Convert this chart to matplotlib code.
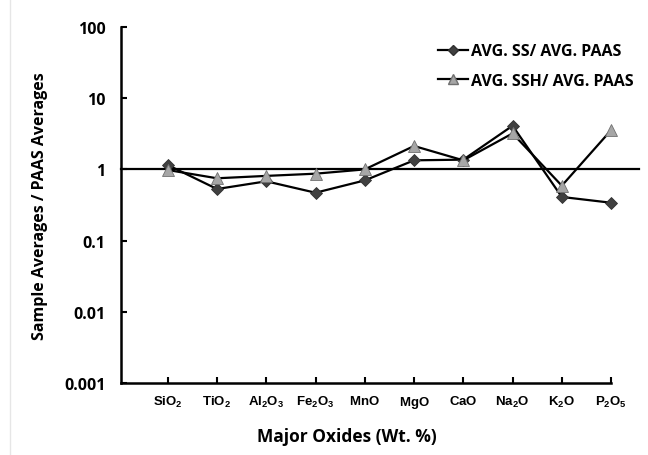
import numpy as np
import matplotlib
matplotlib.use("Agg")
from matplotlib import pyplot as plt
from matplotlib.lines import Line2D

# oxides and the two normalised series
oxides = [r"$\mathbf{SiO_2}$", r"$\mathbf{TiO_2}$", r"$\mathbf{Al_2O_3}$",
          r"$\mathbf{Fe_2O_3}$", r"$\mathbf{MnO}$", r"$\mathbf{MgO}$", r"$\mathbf{CaO}$",
          r"$\mathbf{Na_2O}$", r"$\mathbf{K_2O}$", r"$\mathbf{P_2O_5}$"]
ss_paas = [1.15, 0.53, 0.68, 0.47, 0.70, 1.34, 1.37, 4.1, 0.41, 0.34]
ssh_paas = [0.98, 0.75, 0.81, 0.87, 1.0, 2.13, 1.34, 3.2, 0.59, 3.55]
yticks = [0.001, 0.01, 0.1, 1, 10, 100]
ytick_labels = ["0.001", "0.01", "0.1", "1", "10", "100"]

plt.rcParams['font.family'] = ['Open Sans', 'DejaVu Sans']
plt.rcParams['mathtext.fontset'] = 'custom'
plt.rcParams['mathtext.bf'] = 'Liberation Sans:bold'

fig = plt.figure(figsize=(6.48, 4.56), dpi=100)
ax = fig.add_axes([0.1867, 0.158, 0.7563, 0.7806])

x = np.arange(1, len(oxides) + 1)

# reference line at 1, runs past the axis end
ax.plot([0, 1.058], [1, 1], transform=ax.get_yaxis_transform(), color='black',
        lw=1.6, clip_on=False, zorder=1)

ax.plot(x, ss_paas, color='black', lw=1.6, marker='D', markersize=6.5,
        markerfacecolor='#404040', markeredgecolor='#303030', markeredgewidth=0.6,
        clip_on=False, zorder=3)
ax.plot(x, ssh_paas, color='black', lw=1.6, marker='^', markersize=9,
        markerfacecolor='#a6a6a6', markeredgecolor='#707070', markeredgewidth=0.6,
        clip_on=False, zorder=4)

ax.set_yscale('log')
ax.set_ylim(0.001, 100)
ax.set_xlim(0.05, 10)
ax.set_yticks(yticks)
ax.set_yticklabels(ytick_labels, fontsize=11.5, fontweight='bold')
ax.minorticks_off()
ax.set_xticks(x)
ax.set_xticklabels(oxides, fontsize=9.5)

for s in ['top', 'right']:
    ax.spines[s].set_visible(False)
ax.spines['left'].set_linewidth(1.8)
ax.spines['bottom'].set_linewidth(1.8)
ax.tick_params(axis='both', direction='in', length=4, width=1.5, pad=8)
ax.tick_params(axis='y', pad=11)

ax.set_ylabel('Sample Averages / PAAS Averages', fontsize=11.5, fontweight='bold', labelpad=12)
fig.text(0.535, 0.042, 'Major Oxides (Wt. %)', ha='center', va='center',
         fontsize=12.5, fontweight='bold')

h1 = Line2D([], [], color='black', lw=1.6, marker='D', markersize=5.5,
            markerfacecolor='#404040', markeredgecolor='#303030')
h2 = Line2D([], [], color='black', lw=1.6, marker='^', markersize=7.5,
            markerfacecolor='#a6a6a6', markeredgecolor='#707070')
leg = ax.legend([h1, h2], ['AVG. SS/ AVG. PAAS', 'AVG. SSH/ AVG. PAAS'],
                loc='upper right', bbox_to_anchor=(1.075, 0.995), frameon=False,
                handlelength=1.9, handletextpad=0.15, labelspacing=0.85,
                prop={'weight': 'bold', 'size': 11.5})

# faint border on the left edge
fig.add_artist(Line2D([0.016, 0.016], [0, 1], color='#e6e6e6', lw=1))

fig.savefig('out.png', dpi=100)
